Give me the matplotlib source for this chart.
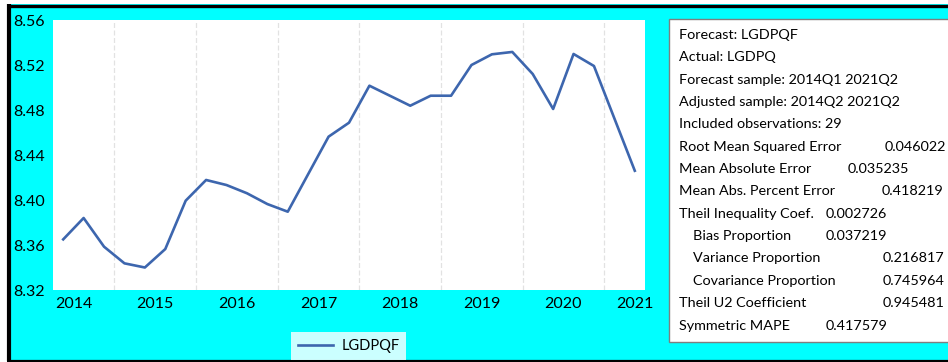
import matplotlib
matplotlib.use("Agg")
import matplotlib.pyplot as plt
from matplotlib.patches import Rectangle
from matplotlib.lines import Line2D

plt.rcParams['font.family'] = ['Lato', 'DejaVu Sans']

# data
years = ['2014', '2015', '2016', '2017', '2018', '2019', '2020', '2021']
lgdpqf = [8.365, 8.384, 8.3585, 8.3437, 8.340, 8.3564, 8.3994, 8.4178,
          8.4133, 8.406, 8.3964, 8.3896, 8.423, 8.4563, 8.4687, 8.5016,
          8.4927, 8.4838, 8.4927, 8.4927, 8.520, 8.5295, 8.5316, 8.512,
          8.4809, 8.5298, 8.5191, 8.4725, 8.426]
y_ticks = [8.32, 8.36, 8.40, 8.44, 8.48, 8.52, 8.56]

info_lines = ['Forecast: LGDPQF', 'Actual: LGDPQ',
              'Forecast sample: 2014Q1 2021Q2',
              'Adjusted sample: 2014Q2 2021Q2',
              'Included observations: 29']
stat_names = ['Root Mean Squared Error', 'Mean Absolute Error',
              'Mean Abs. Percent Error', 'Theil Inequality Coef.',
              'Bias Proportion', 'Variance Proportion',
              'Covariance Proportion', 'Theil U2 Coefficient',
              'Symmetric MAPE']
stat_values = ['0.046022', '0.035235', '0.418219', '0.002726', '0.037219',
               '0.216817', '0.745964', '0.945481', '0.417579']

# layout for stats rows (indent flag, x of value in px)
stat_indent = [0, 0, 0, 0, 1, 1, 1, 0, 0]
stat_val_x = [885, 848, 882, 826, 826, 883, 883, 883, 826]

W, H = 948, 362
fig = plt.figure(figsize=(W / 100, H / 100), dpi=100, facecolor='white')


def fx(x):
    return x / W


def fy(y):
    return 1 - y / H


# cyan background with black frame
fig.patches.append(Rectangle((fx(7), fy(361)), 1, fy(4) - fy(361),
                             transform=fig.transFigure, facecolor='#00FFFF',
                             edgecolor='none', zorder=-10))
fig.lines.append(Line2D([fx(9), fx(9)], [fy(361), fy(4)], transform=fig.transFigure,
                        color='black', lw=3.0, solid_capstyle='butt', zorder=-9))
fig.lines.append(Line2D([fx(7), 1], [fy(5.5), fy(5.5)], transform=fig.transFigure,
                        color='black', lw=2.4, solid_capstyle='butt', zorder=-9))
fig.lines.append(Line2D([fx(7), 1], [fy(361), fy(361)], transform=fig.transFigure,
                        color='black', lw=1.6, solid_capstyle='butt', zorder=5))

ax = fig.add_axes([fx(53), fy(290), fx(645) - fx(53), fy(20) - fy(290)])
ax.set_facecolor('white')
for s in ax.spines.values():
    s.set_visible(False)

x = list(range(len(lgdpqf)))
line, = ax.plot(x, lgdpqf, color='#3D66AE', lw=1.9, label='LGDPQF')

ax.set_xlim(-0.5, len(lgdpqf) - 0.5)
ax.set_ylim(8.32, 8.56)
ax.set_yticks(y_ticks)
ax.set_yticklabels([f'{v:.2f}' for v in y_ticks])
ax.set_xticks([0.5, 4.5, 8.5, 12.5, 16.5, 20.5, 24.5, 28])
ax.set_xticklabels(years)
ax.set_xticks([2.5, 6.5, 10.5, 14.5, 18.5, 22.5, 26.5], minor=True)
ax.tick_params(axis='both', which='both', length=0, labelsize=11.5, colors='black')
ax.tick_params(axis='y', pad=6)
ax.tick_params(axis='x', pad=5)
ax.grid(True, which='minor', axis='x', color='#e2e2e2', lw=0.9, ls=(0, (4, 2)))

leg = fig.legend(handles=[line], loc='center',
                 bbox_to_anchor=(fx(348.5), fy(346)), frameon=True,
                 fancybox=False, fontsize=10.5, handlelength=2.4,
                 borderpad=0.45, handletextpad=0.6)
leg.get_frame().set_edgecolor('none')
leg.get_frame().set_facecolor('white')

# statistics box
fig.patches.append(Rectangle((fx(668.5), fy(342)), 1, fy(18.5) - fy(342),
                             transform=fig.transFigure, facecolor='white',
                             edgecolor='#7f7f7f', lw=1.0, zorder=1))
fs = 10.4
row_h = 22.35
base = 39
for k, t in enumerate(info_lines):
    fig.text(fx(679), fy(base + k * row_h), t, fontsize=fs, va='baseline')
for k, (name, val) in enumerate(zip(stat_names, stat_values)):
    yy = fy(base + (k + len(info_lines)) * row_h)
    fig.text(fx(693 if stat_indent[k] else 679), yy, name, fontsize=fs, va='baseline')
    fig.text(fx(stat_val_x[k]), yy, val, fontsize=fs, va='baseline')

fig.savefig('out.png', dpi=100)
